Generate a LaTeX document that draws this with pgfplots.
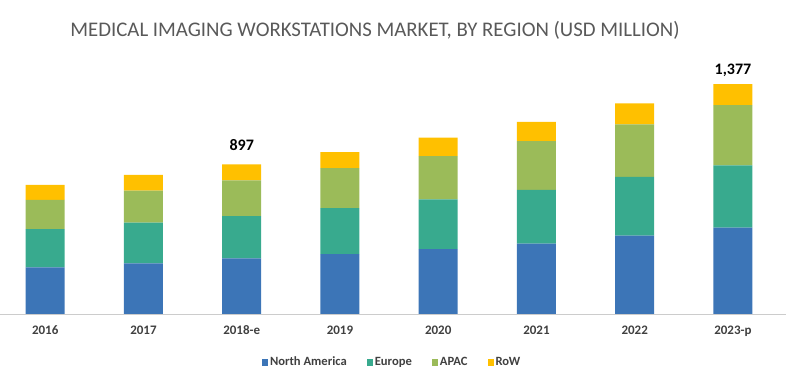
\documentclass[border=0pt]{standalone}
\usepackage{pgfplots}
\pgfplotsset{compat=1.18}
\usepackage{fontspec}
\setmainfont{Carlito}
\definecolor{cNA}{HTML}{3C75B7}
\definecolor{cEU}{HTML}{38AA8E}
\definecolor{cAP}{HTML}{9BBB59}
\definecolor{cRW}{HTML}{FFC000}
\definecolor{titlegray}{HTML}{595959}
\definecolor{labgray}{HTML}{404040}
\begin{document}
\begin{tikzpicture}
\path[use as bounding box] (0,0) rectangle (786pt,371pt);
\node[text=titlegray, font=\fontsize{20.8}{22}\selectfont, inner sep=0pt] at (375pt,341pt) {MEDICAL IMAGING WORKSTATIONS MARKET, BY REGION (USD MILLION)};
\begin{axis}[
  at={(0pt,57pt)}, anchor=south west,
  scale only axis, width=786pt, height=230pt,
  ymin=0, ymax=1378, xmin=-0.46, xmax=7.54,
  ybar stacked, bar width=39pt, clip=false,
  axis y line=none, axis x line*=bottom,
  axis line style={draw=black!20, line width=0.8pt},
  xtick={0,...,7},
  xticklabels={2016,2017,2018-e,2019,2020,2021,2022,2023-p},
  major tick length=0pt,
  x tick label style={font=\bfseries\fontsize{13}{14}\selectfont, text=labgray, yshift=-8pt},
  legend style={at={(0.499,-0.21)}, anchor=center, draw=none, legend columns=-1,
    font=\bfseries\fontsize{12.6}{14}\selectfont, text=labgray,
    /tikz/every even column/.append style={column sep=18pt}},
  legend image code/.code={\fill[#1] (0pt,-3.5pt) rectangle (6pt,3.5pt);},
]
\addplot[fill=cNA, draw=none] coordinates {(0,280) (1,304) (2,333) (3,358) (4,389) (5,421) (6,469) (7,517)};
\addplot[fill=cEU, draw=none] coordinates {(0,228) (1,243) (2,253) (3,276) (4,298) (5,322) (6,353) (7,374)};
\addplot[fill=cAP, draw=none] coordinates {(0,175) (1,192) (2,215) (3,240) (4,259) (5,292) (6,314) (7,361)};
\addplot[fill=cRW, draw=none] coordinates {(0,90) (1,94) (2,96) (3,96) (4,110) (5,116) (6,126) (7,125)};
\legend{North America, Europe, APAC, RoW}
\node[font=\bfseries\fontsize{16}{18}\selectfont, anchor=center] at (axis cs:2,897) [yshift=19pt] {897};
\node[font=\bfseries\fontsize{16}{18}\selectfont, anchor=center] at (axis cs:7,1377) [yshift=14pt] {1,377};
\end{axis}
\end{tikzpicture}
\end{document}
